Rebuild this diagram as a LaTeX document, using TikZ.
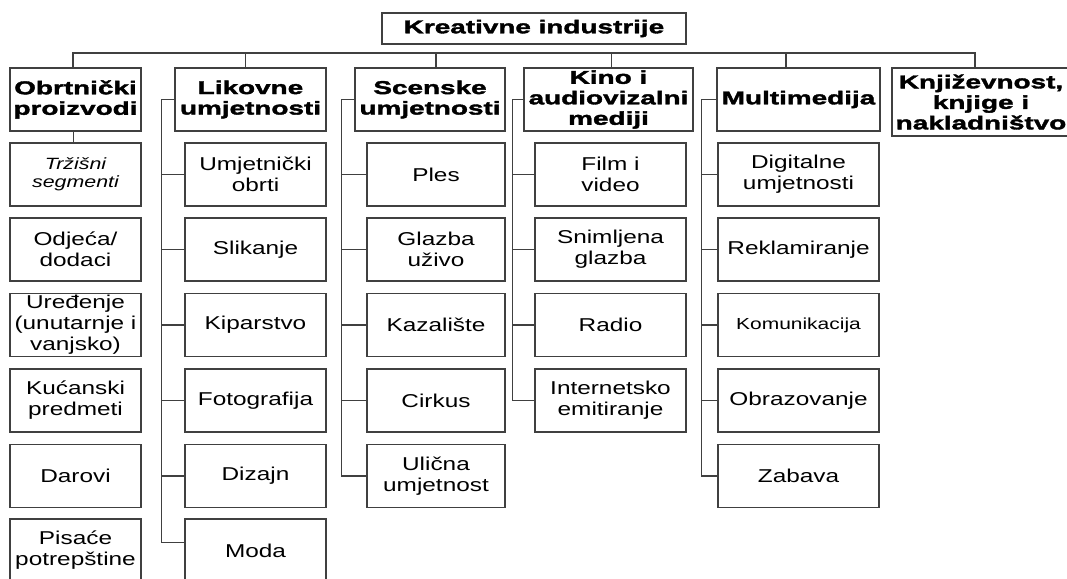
\documentclass[tikz,border=0pt]{standalone}
\usepackage{fontspec}
\setmainfont{Liberation Sans}[FakeStretch=1.31]
\newfontfamily\headfont{Liberation Sans}[FakeStretch=1.5,BoldFeatures={FakeBold=2}]
\usepackage{tikz}

\begin{document}
\begin{tikzpicture}[x=1pt,y=-1pt]
\tikzstyle{head}=[rectangle,draw=black!75,line width=1.3pt,align=center,inner sep=0pt,minimum height=63,font=\headfont\bfseries\fontsize{18.6}{20.5}\selectfont]
\tikzstyle{item}=[rectangle,draw=black!75,line width=1.3pt,align=center,inner sep=0pt,minimum height=63,font=\fontsize{18.6}{21}\selectfont]
\tikzstyle{link}=[draw=black!75,line width=1.3pt]
\useasboundingbox (0,0) rectangle (1067,578);
% top
\node [head,minimum width=304,minimum height=31] (top) at (534,28.5) {Kreativne industrije};
\coordinate (bus) at (534,53);
% first level
\node [head,minimum width=131] (obrt) at (75.5,99.5) {Obrtnički\\proizvodi};
\node [head,minimum width=151] (lik) at (250.5,99.5) {Likovne\\umjetnosti};
\node [head,minimum width=150] (scen) at (430,99.5) {Scenske\\umjetnosti};
\node [head,minimum width=169] (kino) at (608.5,99.5) {Kino i\\audiovizalni\\mediji};
\node [head,minimum width=163] (mm) at (798.5,99.5) {Multimedija};
\node [head,minimum width=178,minimum height=68] (knj) at (981,102) {Književnost,\\knjige i\\nakladništvo};
% obrtnicki proizvodi
\node [item,minimum width=131,font=\itshape\fontsize{16.3}{18.5}\selectfont] (trz) at (75.5,174.5) {Tržišni\\segmenti};
\node [item,minimum width=131] (odj) at (75.5,249.5) {Odjeća/\\dodaci};
\node [item,minimum width=131] (ured) at (75.5,325) {Uređenje\\(unutarnje i\\vanjsko)};
\node [item,minimum width=131] (kuc) at (75.5,400.5) {Kućanski\\predmeti};
\node [item,minimum width=131] (dar) at (75.5,476) {Darovi};
\node [item,minimum width=131] (pis) at (75.5,550.5) {Pisaće\\potrepštine};
% likovne umjetnosti
\node [item,minimum width=141] (umo) at (255.5,174.5) {Umjetnički\\obrti};
\node [item,minimum width=141] (sli) at (255.5,249.5) {Slikanje};
\node [item,minimum width=141] (kip) at (255.5,325) {Kiparstvo};
\node [item,minimum width=141] (fot) at (255.5,400.5) {Fotografija};
\node [item,minimum width=141] (diz) at (255.5,476) {Dizajn};
\node [item,minimum width=141] (moda) at (255.5,550.5) {Moda};
% scenske umjetnosti
\node [item,minimum width=138] (ples) at (436,174.5) {Ples};
\node [item,minimum width=138] (glz) at (436,249.5) {Glazba\\uživo};
\node [item,minimum width=138] (kaz) at (436,325) {Kazalište};
\node [item,minimum width=138] (cirk) at (436,400.5) {Cirkus};
\node [item,minimum width=138] (ulic) at (436,476) {Ulična\\umjetnost};
% kino
\node [item,minimum width=151] (film) at (610.5,174.5) {Film i\\video};
\node [item,minimum width=151] (snim) at (610.5,249.5) {Snimljena\\glazba};
\node [item,minimum width=151] (radio) at (610.5,325) {Radio};
\node [item,minimum width=151] (inet) at (610.5,400.5) {Internetsko\\emitiranje};
% multimedija
\node [item,minimum width=161] (digi) at (798.5,174.5) {Digitalne\\umjetnosti};
\node [item,minimum width=161] (rekl) at (798.5,249.5) {Reklamiranje};
\node [item,minimum width=161,font=\fontsize{16}{19}\selectfont] (komu) at (798.5,325) {Komunikacija};
\node [item,minimum width=161] (obra) at (798.5,400.5) {Obrazovanje};
\node [item,minimum width=161] (zab) at (798.5,476) {Zabava};
% bus
\draw [link] ([xshift=-2.5pt]obrt.north) |- (bus) -| ([xshift=-6pt]knj.north);
\draw [link] ([xshift=-5pt]lik.north) -- ([xshift=-5pt]lik.north |- bus);
\draw [link] ([xshift=6pt]scen.north) -- ([xshift=6pt]scen.north |- bus);
\draw [link] ([xshift=3pt]kino.north) -- ([xshift=3pt]kino.north |- bus);
\draw [link] ([xshift=-12.5pt]mm.north) -- ([xshift=-12.5pt]mm.north |- bus);
\draw [link] ([xshift=-2pt]obrt.south) -- ([xshift=-2pt]trz.north);
% trunks
\draw [link] (lik.west) -- ++(-13,0) coordinate (likT) |- ([yshift=8pt]moda.west);
\draw [link] (umo.west) -- (umo.west -| likT);
\draw [link] (sli.west) -- (sli.west -| likT);
\draw [link] (kip.west) -- (kip.west -| likT);
\draw [link] (fot.west) -- (fot.west -| likT);
\draw [link] (diz.west) -- (diz.west -| likT);
\draw [link] (scen.west) -- ++(-13,0) coordinate (scenT) |- (ulic.west);
\draw [link] (ples.west) -- (ples.west -| scenT);
\draw [link] (glz.west) -- (glz.west -| scenT);
\draw [link] (kaz.west) -- (kaz.west -| scenT);
\draw [link] (cirk.west) -- (cirk.west -| scenT);
\draw [link] (kino.west) -- ++(-11,0) coordinate (kinoT) |- (inet.west);
\draw [link] (film.west) -- (film.west -| kinoT);
\draw [link] (snim.west) -- (snim.west -| kinoT);
\draw [link] (radio.west) -- (radio.west -| kinoT);
\draw [link] (mm.west) -- ++(-15,0) coordinate (mmT) |- (zab.west);
\draw [link] (digi.west) -- (digi.west -| mmT);
\draw [link] (rekl.west) -- (rekl.west -| mmT);
\draw [link] (komu.west) -- (komu.west -| mmT);
\draw [link] (obra.west) -- (obra.west -| mmT);
\end{tikzpicture}
\end{document}
